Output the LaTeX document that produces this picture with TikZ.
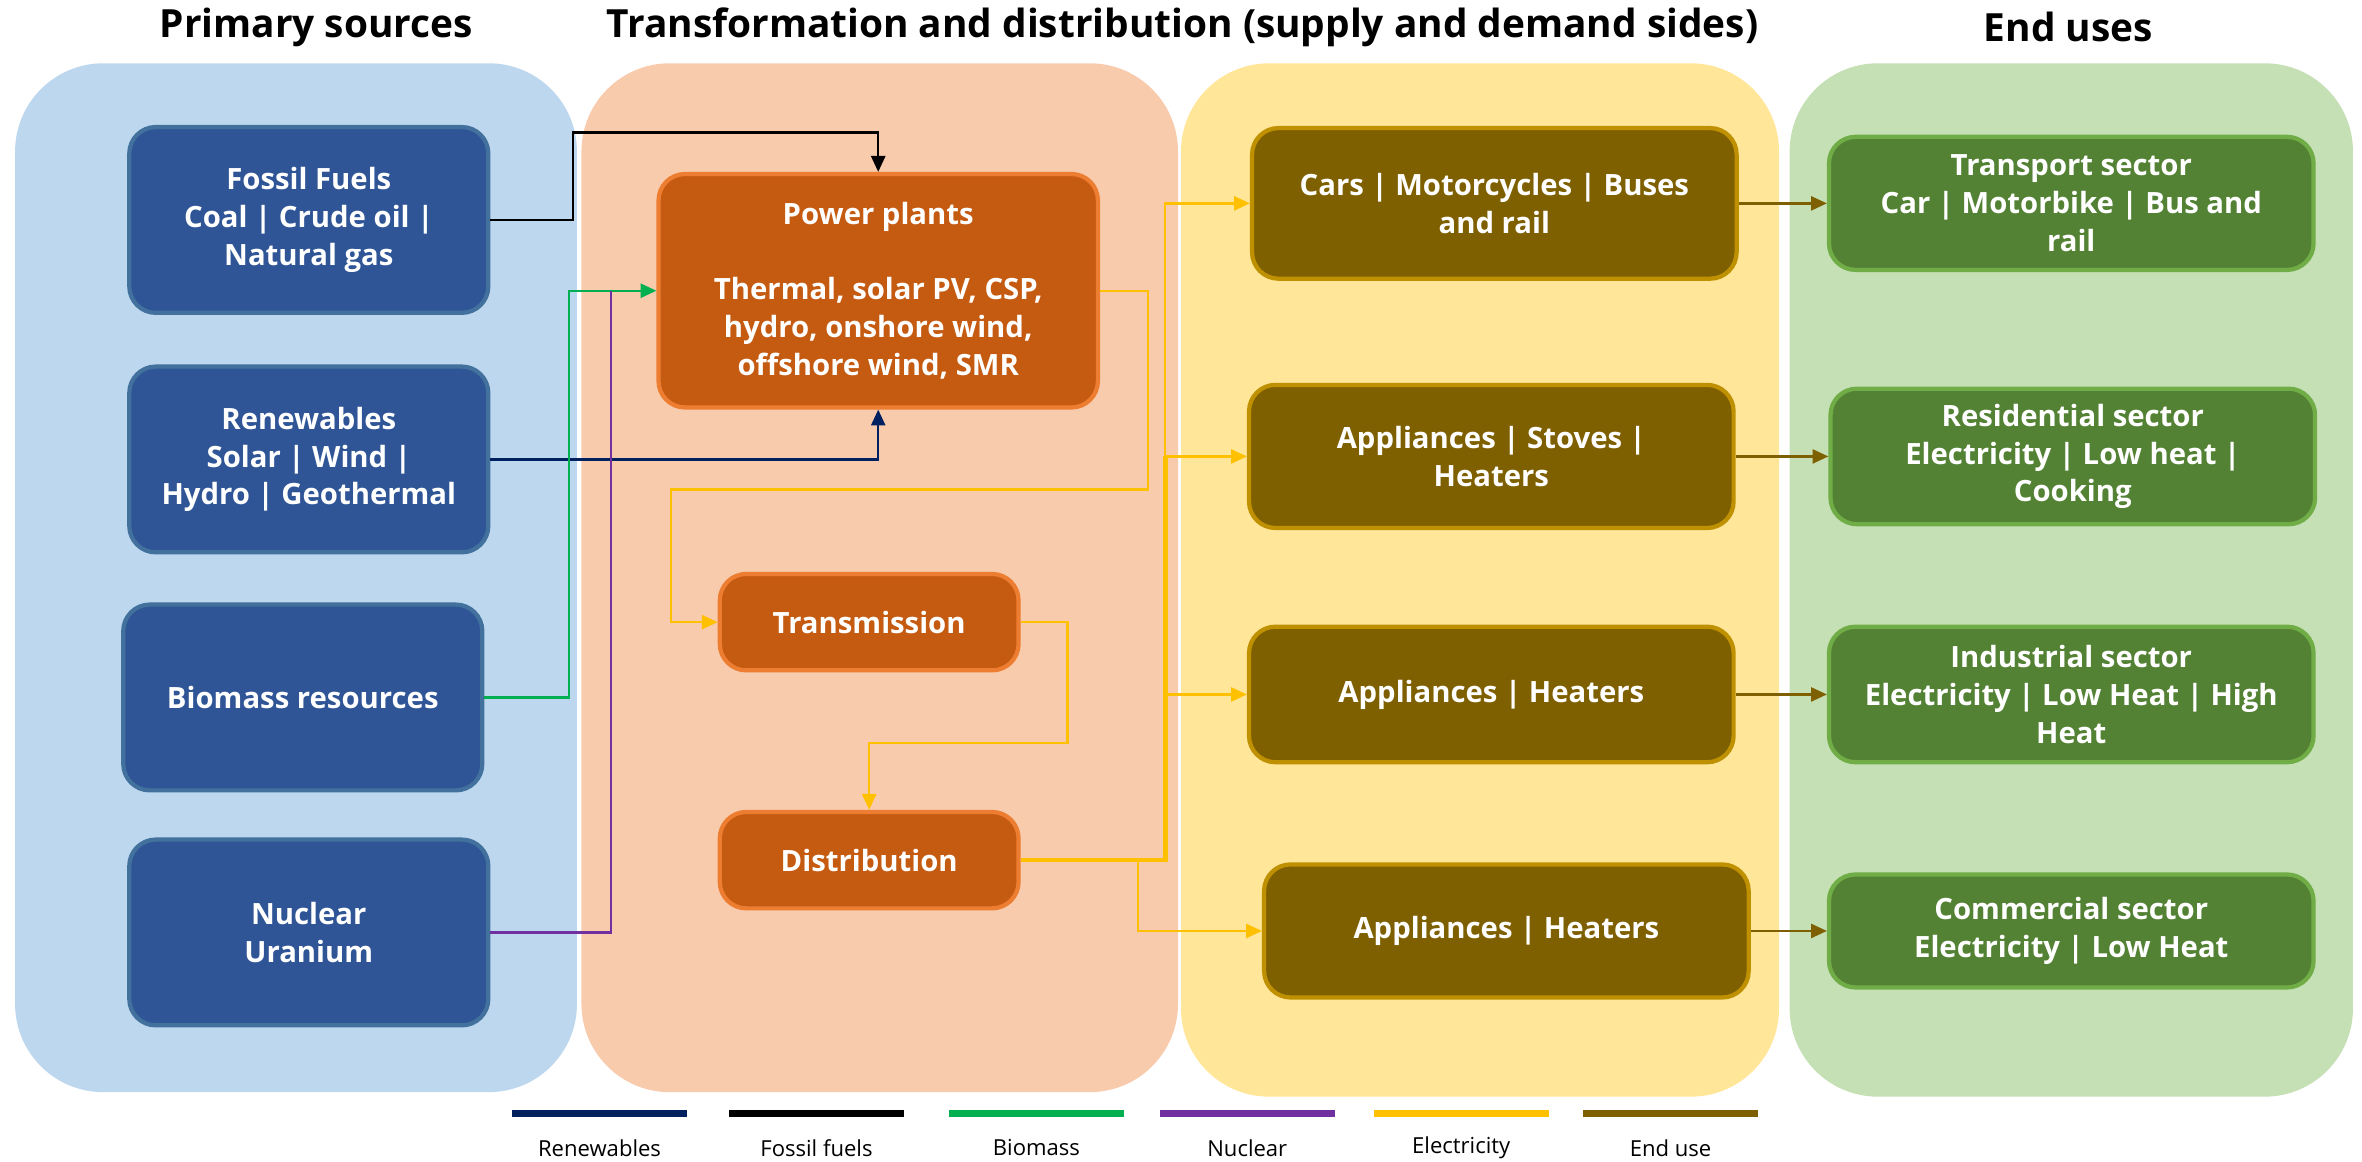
\documentclass[tikz,border=0pt]{standalone}
\usepackage{fontspec}
\setmainfont{Open Sans}
\usetikzlibrary{arrows.meta,calc}

\definecolor{panelblue}{HTML}{BDD7EE}
\definecolor{panelpeach}{HTML}{F8CBAD}
\definecolor{panelyellow}{HTML}{FFE699}
\definecolor{panelgreen}{HTML}{C5E0B4}
\definecolor{srcfill}{HTML}{2F5597}
\definecolor{srcline}{HTML}{41719C}
\definecolor{trfill}{HTML}{C55A11}
\definecolor{trline}{HTML}{ED7D31}
\definecolor{devfill}{HTML}{7F6000}
\definecolor{devline}{HTML}{BF9000}
\definecolor{usefill}{HTML}{548235}
\definecolor{useline}{HTML}{70AD47}
\definecolor{renew}{HTML}{002060}
\definecolor{bio}{HTML}{00B050}
\definecolor{nuc}{HTML}{7030A0}
\definecolor{elec}{HTML}{FFC000}
\definecolor{enduse}{HTML}{7F6000}

\begin{document}
\begin{tikzpicture}[x=0.03cm, y=-0.03cm,
	box/.style={rounded corners=15pt, line width=2.4pt, align=center, text=white,
		font=\bfseries\fontsize{16.6}{21.4}\selectfont, inner sep=0pt},
	src/.style={box, fill=srcfill, draw=srcline, minimum width=7.15cm, minimum height=3.7cm},
	trf/.style={box, fill=trfill, draw=trline},
	dev/.style={box, fill=devfill, draw=devline, minimum width=9.65cm},
	use/.style={box, fill=usefill, draw=useline, minimum width=9.65cm},
	panel/.style={rounded corners=50pt},
	heading/.style={font=\bfseries\fontsize{22}{26}\selectfont},
	wire/.style={line width=1.3pt, -{Triangle[length=9pt,width=8pt]}},
]
	\useasboundingbox (0,0) rectangle (1568,771);
	% Panels and headings:
	\fill[panelblue, panel] (10,42) rectangle (383,725);
	\fill[panelpeach, panel] (386,42) rectangle (782,725);
	\fill[panelyellow, panel] (784,42) rectangle (1181,728);
	\fill[panelgreen, panel] (1188,42) rectangle (1562,728);
	\node[heading] (H1) at (210,18) {Primary sources};
	\node[heading] (H2) at (785,18) {Transformation and distribution (supply and demand sides)};
	\node[heading] (H3) at (1373,18) {End uses};

	% Nodes:
	\node[src] (Ff) at (205,146) {Fossil Fuels\\Coal | Crude oil |\\Natural gas};
	\node[src] (Rn) at (205,305) {Renewables\\Solar | Wind |\\Hydro | Geothermal};
	\node[src] (Bm) at (201,463) {Biomass resources};
	\node[src] (Nu) at (205,619) {Nuclear\\Uranium};

	\node[trf, minimum width=8.75cm, minimum height=4.65cm] (Pp) at (583,193)
		{Power plants\\[21pt]Thermal, solar PV, CSP,\\hydro, onshore wind,\\offshore wind, SMR};
	\node[trf, minimum width=5.95cm, minimum height=1.92cm] (Tr) at (577,413) {Transmission};
	\node[trf, minimum width=5.95cm, minimum height=1.92cm] (Di) at (577,571) {Distribution};

	\node[dev, minimum height=3.0cm] (Car) at (992,135) {Cars | Motorcycles | Buses\\and rail};
	\node[dev, minimum height=2.85cm] (App1) at (990,303) {Appliances | Stoves |\\Heaters};
	\node[dev, minimum height=2.7cm] (App2) at (990,461) {Appliances | Heaters};
	\node[dev, minimum height=2.65cm] (App3) at (1000,618) {Appliances | Heaters};

	\node[use, minimum height=2.65cm] (Trs) at (1375,135) {Transport sector\\Car | Motorbike | Bus and\\rail};
	\node[use, minimum height=2.7cm] (Res) at (1376,303) {Residential sector\\Electricity | Low heat |\\Cooking};
	\node[use, minimum height=2.7cm] (Ind) at (1375,461) {Industrial sector\\Electricity | Low Heat | High\\Heat};
	\node[use, minimum height=2.25cm] (Com) at (1375,618) {Commercial sector\\Electricity | Low Heat};

	% Wires:
	\draw[wire, black] (Ff.east) -- ++(55,0) -- ++(0,-58) -| (Pp.north);
	\draw[wire, renew] (Rn.east) -| (Pp.south);
	\draw[wire, bio] (Bm.east) -| ($(Pp.west)+(-58,0)$) -- (Pp.west);
	\draw[line width=1.3pt, nuc] (Nu.east) -| ($(Pp.west)+(-30,0)$);
	\draw[wire, elec] (Pp.east) -- ++(32,0) -- ++(0,132) -| ($(Tr.west)+(-31,0)$) -- (Tr.west);
	\draw[wire, elec] (Tr.east) -- ++(31,0) -- ++(0,80) -| (Di.north);
	\coordinate (Hub) at ($(Di.east)+(96,0)$);
	\draw[line width=2.6pt, elec] (Di.east) -- (Hub) -- (Hub |- App1.west);
	\draw[wire, elec] (Hub) |- (Car.west);
	\draw[wire, elec] (Hub) |- (App1.west);
	\draw[wire, elec] (Hub) |- (App2.west);
	\draw[wire, elec] ($(Di.east)+(78,0)$) |- (App3.west);
	\draw[wire, enduse] (Car.east) -- (Trs.west);
	\draw[wire, enduse] (App1.east) -- (Res.west);
	\draw[wire, enduse] (App2.east) -- (Ind.west);
	\draw[wire, enduse] (App3.east) -- (Com.west);

	% Legend:
	\foreach \x/\col/\txt [count=\i] in {398/renew/Renewables, 542/black/Fossil fuels,
		688/bio/Biomass, 828/nuc/Nuclear, 970/elec/Electricity, 1109/enduse/End use}{
		\draw[\col, line width=4pt] (\x-58,739) -- (\x+58,739);
		\node[font=\fontsize{12.5}{14}\selectfont] (L\i) at (\x,762) {\txt};
	}
\end{tikzpicture}
\end{document}
